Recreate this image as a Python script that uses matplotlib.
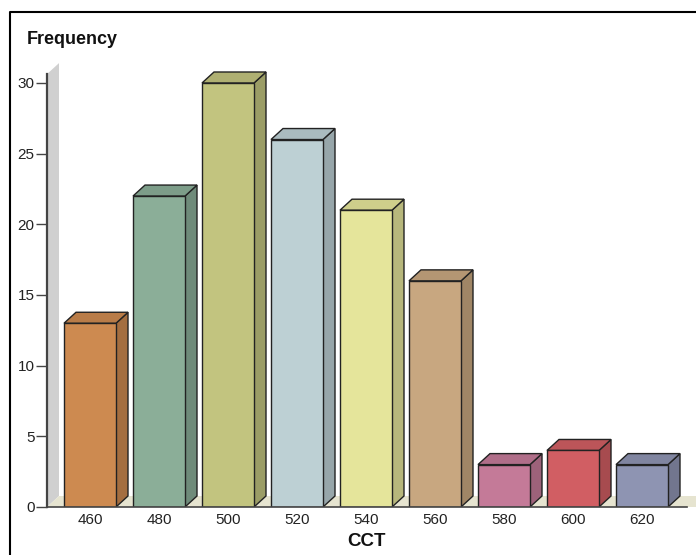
import matplotlib.pyplot as plt
from matplotlib.patches import Polygon, Rectangle
from matplotlib.lines import Line2D

plt.rcParams['font.family'] = ['Liberation Sans', 'DejaVu Sans']

# CCT histogram, drawn as pseudo-3D bars
categories = ['460', '480', '500', '520', '540', '560', '580', '600', '620']
counts = [13, 22, 30, 26, 21, 16, 3, 4, 3]
front_colors = ['#CD8A50', '#8BAE98', '#C2C47F', '#BDD0D4', '#E5E59B',
                '#C8A780', '#C47A98', '#D15E63', '#8E94B2']
y_ticks = [0, 5, 10, 15, 20, 25, 30]


def shade(hex_color, f):
    hex_color = hex_color.lstrip('#')
    r, g, b = (int(hex_color[i:i + 2], 16) / 255 for i in (0, 2, 4))
    return (r * f, g * f, b * f)


W, H = 696, 555
fig = plt.figure(figsize=(W / 100, H / 100), dpi=100)

# axes placed in pixel terms
px_l, px_r, px_b, px_t = 47, 687, 507, 62
ax = fig.add_axes([px_l / W, (H - px_b) / H, (px_r - px_l) / W, (px_b - px_t) / H])

# data scale: category spacing 69 px, first centre at x=90 px; 30 units = 424 px
sx = 69.0
sy = (507 - 83) / 30.0
x0 = -(90 - px_l) / sx
x1 = x0 + (px_r - px_l) / sx
y1 = (px_b - px_t) / sy
ax.set_xlim(x0, x1)
ax.set_ylim(0, y1)

dx = 12 / sx
dy = 11 / sy
half = 26 / sx

# back wall and floor
wall_top = y1 - dy * 0.1
ax.add_patch(Polygon([(x0, 0), (x0 + dx, dy), (x0 + dx, wall_top), (x0, wall_top - dy)],
                     closed=True, facecolor='#D0D0D0', edgecolor='none', zorder=1,
                     clip_on=False))
ax.add_patch(Polygon([(x0, 0), (x1 + 0.2, 0), (x1 + 0.2 + dx, dy), (x0 + dx, dy)],
                     closed=True, facecolor='#E6E4D0', edgecolor='none', zorder=1,
                     clip_on=False))

for i, (v, c) in enumerate(zip(counts, front_colors)):
    l, r = i - half, i + half
    ax.add_patch(Polygon([(r, 0), (r + dx, dy), (r + dx, v + dy), (r, v)], closed=True,
                         facecolor=shade(c, 0.8), edgecolor='#222222', lw=1.0, zorder=3))
    ax.add_patch(Polygon([(l, v), (l + dx, v + dy), (r + dx, v + dy), (r, v)], closed=True,
                         facecolor=shade(c, 0.9), edgecolor='#222222', lw=1.0, zorder=3))
    ax.add_patch(Rectangle((l, 0), 2 * half, v, facecolor=c, edgecolor='#222222',
                           lw=1.0, zorder=4))

for s in ['top', 'right']:
    ax.spines[s].set_visible(False)
ax.spines['left'].set_color('#444444')
ax.spines['bottom'].set_color('#444444')
ax.spines['left'].set_linewidth(1.6)
ax.spines['bottom'].set_linewidth(1.2)
ax.spines['left'].set_bounds(0, wall_top - dy)
ax.spines['left'].set_zorder(5)
ax.spines['bottom'].set_zorder(5)

ax.set_yticks(y_ticks)
ax.set_yticklabels([str(t) for t in y_ticks])
ax.tick_params(axis='y', length=8, width=1, color='#444444', labelsize=11,
               labelcolor='#222222', pad=1)
ax.set_xticks(range(len(categories)))
ax.set_xticklabels(categories)
ax.tick_params(axis='x', length=0, labelsize=11, labelcolor='#222222', pad=4)
ax.patch.set_visible(False)

fig.text(366 / W, 1 - 541 / H, 'CCT', ha='center', va='center', fontsize=13.5,
         fontweight='bold', color='#111111')
fig.text(27 / W, 1 - 40 / H, 'Frequency', ha='left', va='center', fontsize=13,
         fontweight='bold', color='#111111')

# frame around the chart
fig.add_artist(Line2D([10 / W, 10 / W, 1], [0, 1 - 12 / H, 1 - 12 / H],
                      color='black', lw=1.5, transform=fig.transFigure))

fig.savefig('out.png', dpi=100)
